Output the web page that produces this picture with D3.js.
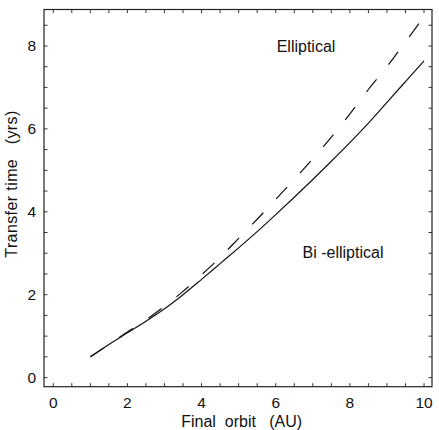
<!DOCTYPE html>
<html>
<head>
<meta charset="utf-8">
<script src="https://cdn.jsdelivr.net/npm/d3@7"></script>
<style>
  body { margin: 0; background: #fff; }
  text { font-family: "Liberation Sans", Arial, sans-serif; fill: #111; }
</style>
</head>
<body>
<div id="chart"></div>
<script>
// Dữ liệu
const orbitAU = [1, 1.5, 2, 2.5, 3, 3.5, 4, 4.5, 5, 5.5, 6, 6.5, 7, 7.5, 8, 8.5, 9, 9.5, 10];
const biElliptical = [0.5, 0.8, 1.08, 1.36, 1.66, 2.0, 2.37, 2.75, 3.13, 3.52, 3.93, 4.35, 4.78, 5.22, 5.67, 6.14, 6.64, 7.14, 7.64];
const elliptical = [0.5, 0.8, 1.1, 1.39, 1.72, 2.08, 2.48, 2.9, 3.36, 3.82, 4.3, 4.78, 5.28, 5.8, 6.36, 6.95, 7.5, 8.1, 8.71];
const xTicks = [0, 2, 4, 6, 8, 10];
const yTicks = [0, 2, 4, 6, 8];

const W = 439, H = 430;
const margin = { top: 9.5, right: 7, bottom: 43.3, left: 44 };
const width = W - margin.left - margin.right,
      height = H - margin.top - margin.bottom;

const svg = d3.select("#chart").append("svg")
    .attr("width", W)
    .attr("height", H)
  .append("g")
    .attr("transform", `translate(${margin.left},${margin.top})`);

const x = d3.scaleLinear().domain([-0.25, 10.215]).range([0, width]);
const y = d3.scaleLinear().domain([-0.22, 8.88]).range([height, 0]);

const minorX = d3.range(0, 10.01, 0.5);
const minorY = d3.range(0, 8.51, 0.5);
const tickLen = 3.5;

// Khung
svg.append("rect")
  .attr("width", width).attr("height", height)
  .attr("fill", "none").attr("stroke", "#222").attr("stroke-width", 1.2);

// Vạch chia hướng vào trong, bốn cạnh
const ticks = svg.append("g").attr("stroke", "#333").attr("stroke-width", 1);
minorX.forEach(v => {
  ticks.append("line").attr("x1", x(v)).attr("x2", x(v)).attr("y1", height).attr("y2", height - tickLen);
  ticks.append("line").attr("x1", x(v)).attr("x2", x(v)).attr("y1", 0).attr("y2", tickLen);
});
minorY.forEach(v => {
  ticks.append("line").attr("y1", y(v)).attr("y2", y(v)).attr("x1", 0).attr("x2", tickLen);
  ticks.append("line").attr("y1", y(v)).attr("y2", y(v)).attr("x1", width).attr("x2", width - tickLen);
});

// Nhãn trục
svg.selectAll("text.xt").data(xTicks).enter().append("text")
  .attr("class", "xt")
  .attr("x", d => x(d)).attr("y", height + 21.5)
  .attr("text-anchor", "middle").style("font-size", "15.5px")
  .text(d => d);

svg.selectAll("text.yt").data(yTicks).enter().append("text")
  .attr("class", "yt")
  .attr("x", -8).attr("y", d => y(d) + 5.5)
  .attr("text-anchor", "end").style("font-size", "15.5px")
  .text(d => d);

svg.append("text")
  .attr("x", 241.7 - margin.left).attr("y", 427 - margin.top)
  .attr("text-anchor", "middle").style("font-size", "16px")
  .style("white-space", "pre")
  .text("Final  orbit   (AU)");

svg.append("text")
  .attr("transform", `translate(${17 - margin.left},${184 - margin.top}) rotate(-90)`)
  .attr("text-anchor", "middle").style("font-size", "16px")
  .style("letter-spacing", "0.4px")
  .style("white-space", "pre")
  .text("Transfer time   (yrs)");

// Đường cong
const line = d3.line()
  .x((d, i) => x(orbitAU[i]))
  .y(d => y(d))
  .curve(d3.curveCatmullRom);

svg.append("path")
  .datum(biElliptical)
  .attr("d", line)
  .attr("fill", "none").attr("stroke", "#111").attr("stroke-width", 1.2);

svg.append("path")
  .datum(elliptical)
  .attr("d", line)
  .attr("fill", "none").attr("stroke", "#111").attr("stroke-width", 1.2)
  .attr("stroke-dasharray", "16,19");

// Chú thích
svg.append("text")
  .attr("x", 306 - margin.left).attr("y", 52 - margin.top)
  .attr("text-anchor", "middle").style("font-size", "16px")
  .text("Elliptical");

svg.append("text")
  .attr("x", 343 - margin.left).attr("y", 258 - margin.top)
  .attr("text-anchor", "middle").style("font-size", "16px")
  .style("white-space", "pre")
  .text("Bi -elliptical");
</script>
</body>
</html>
